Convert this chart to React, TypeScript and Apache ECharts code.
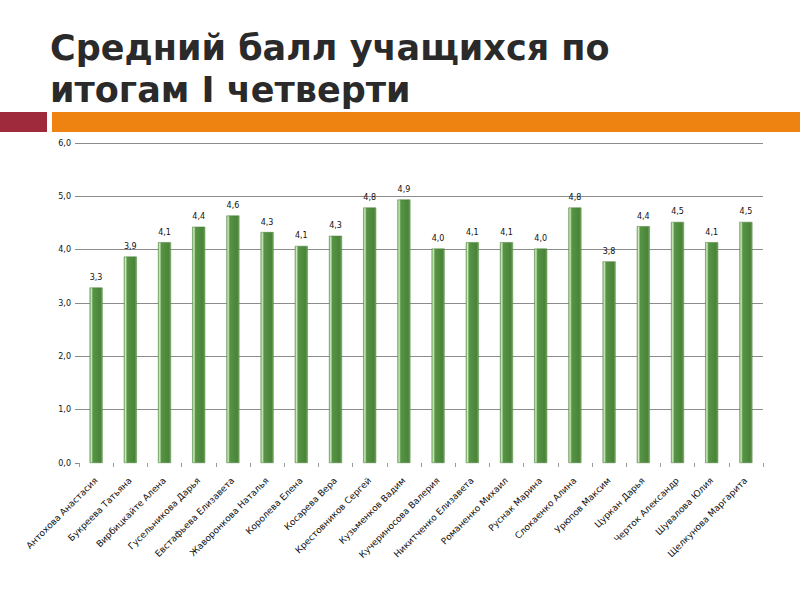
import React, { useEffect, useRef } from "react";
import * as echarts from "echarts";

const titleLines = ["Средний балл учащихся по", "итогам I четверти"];

const students = [
  "Антохова Анастасия",
  "Букреева Татьяна",
  "Вирбицкайте Алена",
  "Гусельникова Дарья",
  "Евстафьева Елизавета",
  "Жаворонкова Наталья",
  "Королева Елена",
  "Косарева Вера",
  "Крестовников Сергей",
  "Кузьменков Вадим",
  "Кучериносова Валерия",
  "Никитченко Елизавета",
  "Романенко Михаил",
  "Руснак Марина",
  "Слокаенко Алина",
  "Урюпов Максим",
  "Цуркан Дарья",
  "Черток Александр",
  "Шувалова Юлия",
  "Щелкунова Маргарита",
];

const averages = [
  3.29, 3.87, 4.14, 4.43, 4.64, 4.33, 4.07, 4.26, 4.79, 4.94,
  4.02, 4.14, 4.14, 4.02, 4.79, 3.78, 4.44, 4.52, 4.14, 4.52,
];

const yMin = 0;
const yMax = 6;
const yStep = 1;

const fmt = (v: number) => v.toFixed(1).replace(".", ",");

export default function App() {
  const ref = useRef<HTMLDivElement>(null);

  useEffect(() => {
    if (!ref.current) return;
    const chart = echarts.init(ref.current, undefined, { renderer: "svg" });
    const barColor = new echarts.graphic.LinearGradient(0, 0, 1, 0, [
      { offset: 0, color: "#86bb72" },
      { offset: 0.12, color: "#cfeabf" },
      { offset: 0.25, color: "#579445" },
      { offset: 0.85, color: "#4a8339" },
      { offset: 1, color: "#79b065" },
    ]);
    const gridColors = ["rgba(0,0,0,0)", "#8c8c8c", "#8c8c8c", "#8c8c8c", "#8c8c8c", "#8c8c8c", "#8c8c8c"];
    chart.setOption({
      animation: false,
      backgroundColor: "#ffffff",
      graphic: [
        {
          type: "text",
          left: 50,
          top: 30,
          style: {
            text: titleLines[0],
            font: "bold 35px 'DejaVu Sans'",
            fill: "#2a2a2a",
          },
        },
        {
          type: "text",
          left: 50,
          top: 72,
          style: {
            text: titleLines[1],
            font: "bold 35px 'DejaVu Sans'",
            fill: "#2a2a2a",
          },
        },
        {
          type: "rect",
          shape: { x: 0, y: 112, width: 47, height: 20 },
          style: { fill: "#9e2a3b" },
        },
        {
          type: "rect",
          shape: { x: 52, y: 112, width: 748, height: 20 },
          style: { fill: "#ee8312" },
        },
      ],
      grid: { left: 79, right: 37, top: 143, bottom: 137, containLabel: false },
      xAxis: {
        type: "category",
        data: students,
        axisLine: { show: false },
        axisTick: {
          show: true,
          alignWithLabel: false,
          interval: 0,
          length: 4,
          lineStyle: { color: "#9a9a9a" },
        },
        axisLabel: {
          interval: 0,
          rotate: 45,
          margin: 16,
          fontSize: 9,
          fontFamily: "DejaVu Sans",
          color: "#111",
        },
      },
      yAxis: {
        type: "value",
        min: yMin,
        max: yMax,
        interval: yStep,
        axisLine: { show: false },
        axisTick: { show: true, length: 4, lineStyle: { color: "#888" } },
        splitLine: { show: true, lineStyle: { color: gridColors, width: 1 } },
        axisLabel: {
          formatter: (v: number) => fmt(v),
          fontSize: 8,
          fontFamily: "DejaVu Sans",
          color: "#111",
          margin: 8,
        },
      },
      series: [
        {
          type: "bar",
          data: averages,
          barWidth: 13,
          itemStyle: { color: barColor, borderColor: "#467d36", borderWidth: 0.5 },
          label: {
            show: true,
            position: "top",
            distance: 6,
            fontSize: 8,
            fontFamily: "DejaVu Sans",
            color: "#111",
            formatter: (p: any) => fmt(p.value),
          },
        },
      ],
    });
    return () => chart.dispose();
  }, []);

  return (
    <div
      ref={ref}
      style={{ position: "fixed", left: 0, top: 0, width: 800, height: 600 }}
    />
  );
}
